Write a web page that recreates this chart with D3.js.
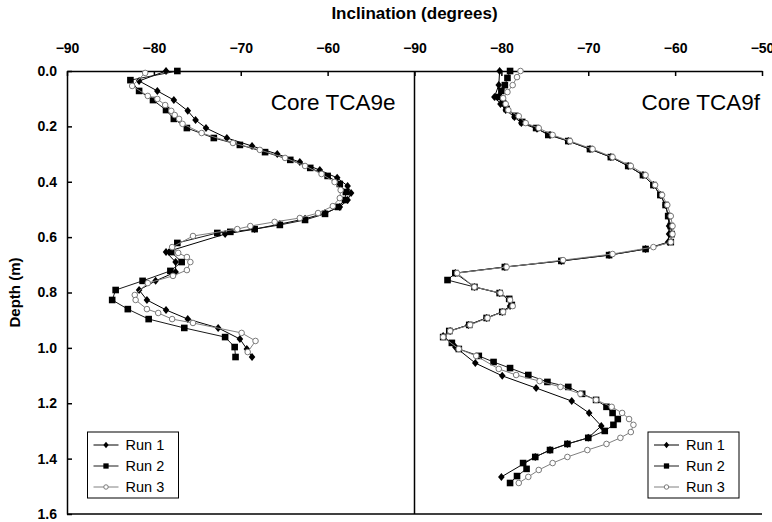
<!DOCTYPE html>
<html>
<head>
<meta charset="utf-8">
<script src="https://cdn.jsdelivr.net/npm/d3@7"></script>
<style>
  body { margin: 0; background: #fff; }
  svg text { font-family: Arial, "Liberation Sans", sans-serif; fill: #000; }
  .axis .tick text { font-weight: bold; font-size: 14px; }
  .axis path, .axis line { stroke: #000; stroke-width: 1.5px; }
</style>
</head>
<body>
<svg id="chart"></svg>
<script>
// tick labels
var xTicksE = [-90, -80, -70, -60];
var xTicksF = [-90, -80, -70, -60, -50];
var yTicks = [0, 0.2, 0.4, 0.6, 0.8, 1.0, 1.2, 1.4, 1.6];
var runNames = ["Run 1", "Run 2", "Run 3"];
var coreNames = ["Core TCA9e", "Core TCA9f"];

// [depth (m), inclination (deg)] -- Core TCA9e
var e_run1 = [[0.000,-78.6],[0.036,-81.7],[0.072,-79.6],[0.105,-77.7],[0.144,-76.1],[0.177,-75.2],[0.206,-74.0],[0.242,-71.6],[0.271,-68.7],[0.300,-65.8],[0.329,-63.2],[0.358,-60.9],[0.386,-58.9],[0.415,-57.7],[0.441,-57.3],[0.466,-57.7],[0.491,-58.6],[0.513,-60.3],[0.534,-62.6],[0.553,-65.5],[0.571,-68.4],[0.589,-71.8],[0.654,-78.6],[0.690,-77.5],[0.726,-77.5],[0.758,-79.8],[0.791,-81.7],[0.827,-80.8],[0.863,-78.6],[0.896,-76.1],[0.928,-72.6],[0.968,-70.1],[1.004,-69.3],[1.033,-68.7]];
var e_run2 = [[0.000,-77.3],[0.033,-82.7],[0.072,-81.7],[0.105,-80.1],[0.141,-78.6],[0.173,-77.7],[0.206,-76.2],[0.242,-73.1],[0.267,-70.1],[0.293,-67.2],[0.321,-64.3],[0.350,-62.0],[0.379,-60.0],[0.408,-58.6],[0.437,-57.9],[0.466,-58.0],[0.491,-58.8],[0.516,-60.3],[0.538,-62.6],[0.556,-65.5],[0.571,-68.4],[0.581,-71.2],[0.585,-72.7],[0.621,-77.3],[0.654,-78.0],[0.690,-76.8],[0.722,-78.1],[0.758,-81.3],[0.791,-84.4],[0.827,-84.8],[0.860,-83.0],[0.896,-80.6],[0.928,-76.5],[0.961,-71.8],[0.997,-70.7],[1.033,-70.6]];
var e_run3 = [[0.007,-81.0],[0.054,-82.5],[0.090,-80.7],[0.101,-79.6],[0.123,-78.7],[0.144,-78.0],[0.159,-77.6],[0.173,-77.1],[0.191,-76.7],[0.224,-74.5],[0.260,-70.9],[0.285,-67.8],[0.314,-64.9],[0.343,-62.6],[0.372,-60.7],[0.401,-59.2],[0.430,-58.5],[0.459,-58.6],[0.488,-59.4],[0.513,-61.1],[0.531,-63.2],[0.545,-66.1],[0.560,-68.9],[0.571,-70.4],[0.596,-75.5],[0.636,-77.9],[0.657,-77.2],[0.672,-76.2],[0.690,-75.8],[0.719,-76.2],[0.740,-77.8],[0.766,-80.7],[0.809,-82.2],[0.827,-82.1],[0.860,-80.8],[0.874,-79.5],[0.896,-77.9],[0.910,-75.5],[0.946,-69.9],[0.975,-68.3],[1.015,-69.2]];

// [depth (m), inclination (deg)] -- Core TCA9f
var f_run1 = [[0.000,-80.2],[0.051,-80.3],[0.094,-80.8],[0.119,-80.1],[0.141,-79.5],[0.166,-78.5],[0.188,-77.7],[0.209,-75.9],[0.231,-74.4],[0.253,-72.3],[0.282,-69.8],[0.311,-67.4],[0.343,-65.4],[0.376,-63.7],[0.412,-62.5],[0.448,-61.7],[0.484,-61.1],[0.524,-60.8],[0.560,-60.7],[0.589,-60.7],[0.618,-60.8],[0.643,-63.4],[0.665,-67.6],[0.686,-73.1],[0.708,-79.6],[0.730,-85.3],[0.780,-83.1],[0.802,-80.2],[0.827,-79.1],[0.849,-79.0],[0.870,-79.9],[0.892,-81.7],[0.917,-83.8],[0.939,-85.9],[0.957,-86.7],[0.997,-85.3],[1.055,-83.0],[1.101,-79.9],[1.145,-76.0],[1.192,-71.9],[1.235,-69.9],[1.282,-68.5],[1.325,-70.0],[1.347,-72.4],[1.369,-74.4],[1.394,-76.1],[1.466,-80.0]];
var f_run2 = [[0.000,-79.0],[0.025,-79.3],[0.051,-79.6],[0.072,-80.0],[0.094,-80.3],[0.116,-79.8],[0.137,-79.4],[0.162,-78.4],[0.184,-77.6],[0.206,-76.0],[0.231,-74.6],[0.253,-72.3],[0.282,-69.8],[0.311,-67.4],[0.343,-65.4],[0.376,-63.7],[0.412,-62.5],[0.448,-61.7],[0.484,-61.1],[0.524,-60.8],[0.560,-60.5],[0.589,-60.4],[0.618,-60.5],[0.643,-63.4],[0.665,-67.6],[0.686,-73.1],[0.708,-79.6],[0.730,-85.3],[0.755,-86.2],[0.780,-83.1],[0.802,-80.2],[0.823,-79.1],[0.845,-78.8],[0.870,-79.9],[0.892,-81.7],[0.917,-83.7],[0.939,-86.0],[0.961,-86.7],[0.982,-85.7],[1.004,-84.9],[1.029,-82.6],[1.051,-80.9],[1.073,-79.0],[1.098,-76.9],[1.123,-74.7],[1.141,-72.3],[1.166,-70.7],[1.188,-69.1],[1.213,-67.9],[1.235,-67.2],[1.257,-66.6],[1.278,-67.1],[1.300,-68.1],[1.325,-70.0],[1.347,-72.4],[1.369,-74.4],[1.394,-76.1],[1.416,-77.5],[1.437,-77.1],[1.463,-78.2],[1.488,-79.0]];
var f_run3 = [[0.000,-77.8],[0.022,-78.2],[0.051,-78.7],[0.076,-79.3],[0.098,-79.8],[0.119,-79.5],[0.141,-79.2],[0.163,-78.0],[0.188,-77.2],[0.206,-75.7],[0.231,-74.1],[0.253,-72.1],[0.282,-69.5],[0.311,-67.2],[0.343,-65.1],[0.376,-63.4],[0.412,-62.3],[0.448,-61.5],[0.484,-60.9],[0.524,-60.5],[0.560,-60.3],[0.589,-60.3],[0.618,-60.5],[0.636,-62.5],[0.661,-67.2],[0.683,-72.9],[0.708,-79.4],[0.730,-85.1],[0.780,-83.1],[0.802,-80.1],[0.827,-79.0],[0.849,-78.7],[0.870,-79.8],[0.892,-81.6],[0.917,-83.6],[0.939,-85.9],[0.961,-86.7],[1.004,-84.9],[1.029,-82.9],[1.076,-80.3],[1.098,-78.3],[1.120,-75.6],[1.141,-73.2],[1.166,-70.9],[1.188,-69.1],[1.213,-67.3],[1.235,-66.1],[1.257,-65.3],[1.278,-64.8],[1.304,-65.1],[1.325,-66.3],[1.347,-67.9],[1.369,-70.1],[1.394,-72.4],[1.416,-74.1],[1.441,-75.7],[1.466,-76.9],[1.488,-78.0]];

var margin = { top: 71, right: 10, bottom: 8, left: 67 },
  width = 772 - margin.left - margin.right,
  height = 522 - margin.top - margin.bottom;

var svg = d3.select("#chart")
  .attr("width", width + margin.left + margin.right)
  .attr("height", height + margin.top + margin.bottom)
  .append("g")
  .attr("transform", "translate(" + margin.left + "," + margin.top + ")");

var panelW = 347.5;

var y = d3.scaleLinear().domain([0, 1.6]).range([0, height]);
var xE = d3.scaleLinear().domain([-90, -50]).range([0, panelW]);
var xF = d3.scaleLinear().domain([-90, -50]).range([panelW, width]);

var panels = [
  { x: xE, ticks: xTicksE, runs: [e_run1, e_run2, e_run3], name: coreNames[0] },
  { x: xF, ticks: xTicksF, runs: [f_run1, f_run2, f_run3], name: coreNames[1] }
];

// marker shapes
function marker(sel, i, s) {
  s = s || 1;
  if (i == 0) {
    sel.append("path")
      .attr("d", "M0," + (-4 * s) + "L" + (3.3 * s) + ",0L0," + (4 * s) + "L" + (-3.3 * s) + ",0Z")
      .attr("fill", "#000");
  } else if (i == 1) {
    sel.append("rect")
      .attr("x", -3.3 * s).attr("y", -3.3 * s)
      .attr("width", 6.6 * s).attr("height", 6.6 * s)
      .attr("fill", "#000");
  } else {
    sel.append("circle")
      .attr("r", 2.8 * s)
      .attr("fill", "#fff")
      .attr("stroke", "#7a7a7a")
      .attr("stroke-width", 1);
  }
}

var lineColors = ["#000", "#1a1a1a", "#808080"];

// frame lines
svg.append("line").attr("x1", 0).attr("x2", width).attr("y1", height).attr("y2", height)
  .attr("stroke", "#000").attr("stroke-width", 1.5);
svg.append("line").attr("x1", panelW).attr("x2", panelW).attr("y1", 0).attr("y2", height)
  .attr("stroke", "#000").attr("stroke-width", 1.5);

panels.forEach(function(p) {
  svg.append("g")
    .attr("class", "axis")
    .call(d3.axisTop(p.x).tickValues(p.ticks).tickSizeInner(-5).tickSizeOuter(0).tickPadding(18));

  p.runs.forEach(function(run, i) {
    var line = d3.line()
      .x(d => p.x(d[1]))
      .y(d => y(d[0]));

    svg.append("path")
      .datum(run)
      .attr("fill", "none")
      .attr("stroke", lineColors[i])
      .attr("stroke-width", 1)
      .attr("d", line);

    var pts = svg.selectAll(null)
      .data(run)
      .enter()
      .append("g")
      .attr("transform", d => "translate(" + p.x(d[1]) + "," + y(d[0]) + ")");
    marker(pts, i);
  });

  // core label
  svg.append("text")
    .attr("x", p.x.range()[1] - (p.x === xE ? 19 : 2))
    .attr("y", 39)
    .attr("text-anchor", "end")
    .style("font-size", "22.5px")
    .text(p.name);

  // legend
  var lx = p.x.range()[1] - (p.x === xE ? 327 : 114),
    ly = 361;
  var leg = svg.append("g").attr("transform", "translate(" + lx + "," + ly + ")");
  leg.append("rect")
    .attr("width", 91).attr("height", 66)
    .attr("fill", "#fff").attr("stroke", "#000").attr("stroke-width", 1);
  runNames.forEach(function(r, i) {
    var row = leg.append("g").attr("transform", "translate(0," + (13 + i * 21) + ")");
    row.append("line").attr("x1", 6).attr("x2", 31)
      .attr("stroke", lineColors[i]).attr("stroke-width", 1);
    var m = row.append("g").attr("transform", "translate(18.5,0)");
    marker(m, i, 0.8);
    row.append("text")
      .attr("x", 38).attr("dy", "0.36em")
      .style("font-size", "14.5px")
      .text(r);
  });
});

// depth axis
svg.append("g")
  .attr("class", "axis")
  .call(d3.axisLeft(y).tickValues(yTicks).tickFormat(d3.format(".1f"))
    .tickSizeInner(-5).tickSizeOuter(0).tickPadding(10));

svg.append("text")
  .attr("x", width / 2)
  .attr("y", -52)
  .attr("text-anchor", "middle")
  .style("font-weight", "bold")
  .style("font-size", "17px")
  .text("Inclination (degrees)");

svg.append("text")
  .attr("transform", "rotate(-90)")
  .attr("x", -y(0.8))
  .attr("y", -47)
  .attr("text-anchor", "middle")
  .style("font-weight", "bold")
  .style("font-size", "15px")
  .text("Depth (m)");
</script>
</body>
</html>
